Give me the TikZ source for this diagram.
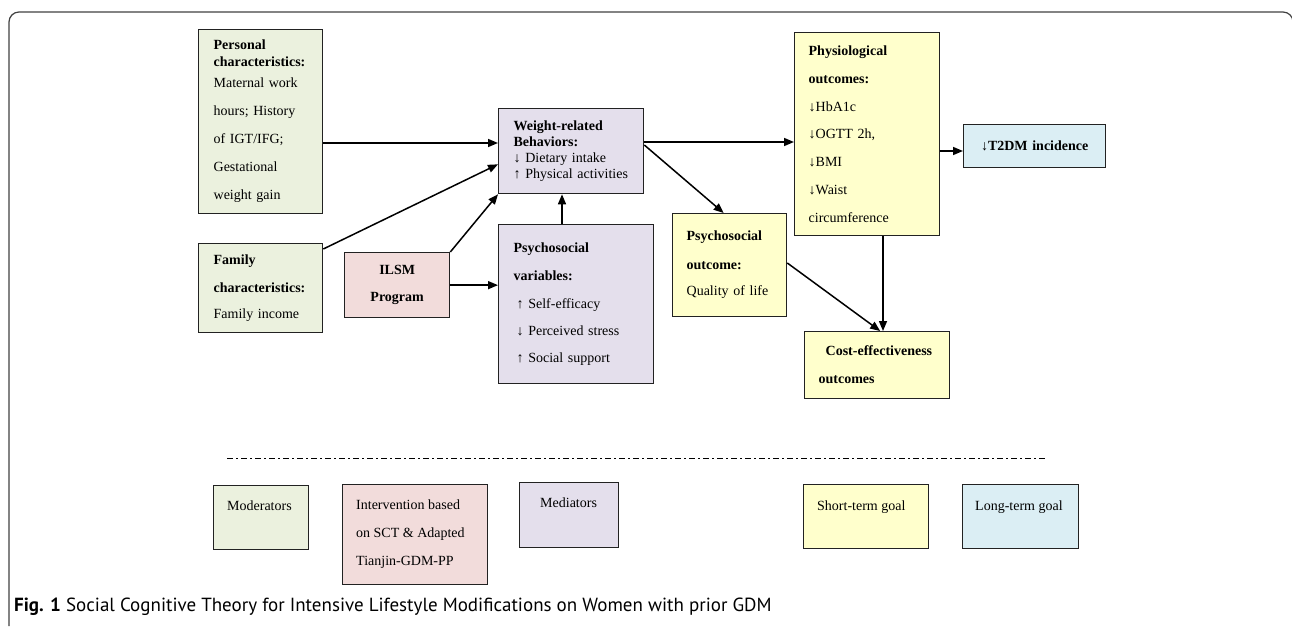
\documentclass[tikz,border=0pt]{standalone}
\usepackage{fontspec}
\setmainfont{Liberation Serif}
\newfontfamily\capfont{PT Sans}
\usetikzlibrary{arrows.meta}
\definecolor{cgreen}{HTML}{EBF1DE}
\definecolor{cpink}{HTML}{F2DCDB}
\definecolor{clav}{HTML}{E4DFEC}
\definecolor{cyel}{HTML}{FFFFCC}
\definecolor{cblue}{HTML}{DBEEF4}
\definecolor{cline}{HTML}{222222}
\tikzset{
  box/.style={draw=cline, line width=1.3pt, inner xsep=15pt, inner ysep=0pt,
    anchor=north west, align=left, font=\fontsize{14}{17}\selectfont},
  legbox/.style={draw=cline, line width=1.3pt, inner sep=0pt, anchor=north west},
  legtext/.style={anchor=base west, inner sep=0pt, font=\fontsize{14}{17}\selectfont},
  arr/.style={draw=black, line width=1.5pt, -{Triangle[length=10pt,width=8pt]}},
}
\begin{document}
\begin{tikzpicture}[x=1pt,y=-1pt]
\useasboundingbox (0,0) rectangle (1292,626);
% frame
\coordinate (f1) at (9,626);
\coordinate (f2) at (9,12);
\coordinate (f3) at (1293,12);
\coordinate (f4) at (1293,30);
\draw[line width=1.2pt, black!75, rounded corners=10pt] (f1) -- (f2) -- (f3) -- (f4);

% main boxes
\node[box, fill=cgreen, text width=94pt, minimum height=184pt] (pers) at (198,29)
  {\textbf{Personal}\\ \textbf{characteristics:}\\[4pt] Maternal work\\[11pt] hours; History\\[11pt] of IGT/IFG;\\[11pt] Gestational\\[11pt] weight gain};
\node[box, fill=cgreen, text width=94pt, minimum height=89pt] (fam) at (198,243)
  {\textbf{Family}\\[11pt] \textbf{characteristics:}\\[9pt] Family income};
\node[box, fill=cpink, text width=75pt, minimum height=65pt, align=center] (ilsm) at (344,252)
  {\textbf{ILSM}\\[10pt] \textbf{Program}};
\node[box, fill=clav, text width=115pt, minimum height=85pt] (wb) at (498,108)
  {\textbf{Weight-related}\\[-1pt] \textbf{Behaviors:}\\[-1pt] \mbox{↓ Dietary intake}\\[-1pt] \mbox{↑ Physical activities}};
\node[box, fill=clav, text width=125pt, minimum height=159pt] (pv) at (498,224)
  {\textbf{Psychosocial}\\[11pt] \textbf{variables:}\\[11pt] \mbox{\hspace{3pt}↑ Self-efficacy}\\[10pt] \mbox{\hspace{3pt}↓ Perceived stress}\\[10pt] \mbox{\hspace{3pt}↑ Social support}};
\node[box, fill=cyel, inner xsep=14pt, text width=86pt, minimum height=103pt] (po) at (672,213)
  {\textbf{Psychosocial}\\[12pt] \textbf{outcome:}\\[9pt] Quality of life};
\node[box, fill=cyel, inner xsep=14pt, text width=117pt, minimum height=203pt] (phys) at (794,32)
  {\textbf{Physiological}\\[10.7pt] \textbf{outcomes:}\\[10.7pt] ↓HbA1c\\[10.7pt] \mbox{↓OGTT 2h,}\\[10.7pt] ↓BMI\\[10.7pt] ↓Waist\\[10.7pt] circumference};
\node[box, fill=cblue, text width=112pt, minimum height=43pt, align=center] (t2dm) at (963,124)
  {\textbf{\mbox{↓T2DM incidence}}};
\node[box, fill=cyel, inner xsep=14pt, text width=117pt, minimum height=67pt] (cost) at (804,331)
  {\hspace{7pt}\textbf{Cost-effectiveness}\\[11pt] \textbf{outcomes}};

% helper coordinates
\coordinate (y143) at (0,143);
\coordinate (y142) at (0,142);
\coordinate (y151) at (0,151);
\coordinate (x562) at (562,0);
\coordinate (x883) at (883,0);

% connectors
\draw[arr] (pers.east |- y143) -- (wb.west |- y143);
\draw[arr] ([yshift=-6pt]fam.north east) -- ([yshift=30pt]wb.south west);
\draw[arr] (ilsm.north east) -- (wb.south west);
\draw[arr] (ilsm.east) -- (pv.west |- ilsm.east);
\draw[arr] (pv.north -| x562) -- (wb.south -| x562);
\draw[arr] (wb.east |- y142) -- (phys.west |- y142);
\draw[arr] ([yshift=-37pt]wb.north east) -- ([xshift=-6pt]po.north);
\draw[arr] (phys.east |- y151) -- (t2dm.west |- y151);
\draw[arr] (phys.south -| x883) -- (cost.north -| x883);
\draw[arr] ([yshift=-50pt]po.north east) -- ([xshift=3pt]cost.north);

% dashed separator
\coordinate (d1) at (227,458);
\coordinate (d2) at (1047,458);
\draw[line width=1pt, dash pattern=on 6pt off 3pt on 2pt off 3pt] (d1) -- (d2);

% legend
\node[legbox, fill=cgreen, minimum width=95pt, minimum height=64pt] (lmod) at (213,485) {};
\node[legtext] (tmod) at (227,510) {Moderators};
\node[legbox, fill=cpink, minimum width=145pt, minimum height=100pt] (lint) at (342,484) {};
\node[legtext] (tint1) at (356,509) {Intervention based};
\node[legtext] (tint2) at (356,537) {on SCT \& Adapted};
\node[legtext] (tint3) at (356,565) {Tianjin-GDM-PP};
\node[legbox, fill=clav, minimum width=99pt, minimum height=65pt] (lmed) at (519,482) {};
\node[legtext] (tmed) at (540,507) {Mediators};
\node[legbox, fill=cyel, minimum width=125pt, minimum height=64pt] (lshort) at (803,484) {};
\node[legtext] (tshort) at (817,510) {Short-term goal};
\node[legbox, fill=cblue, minimum width=116pt, minimum height=64pt] (llong) at (962,484) {};
\node[legtext] (tlong) at (975,510) {Long-term goal};

% caption
\node[anchor=base west, inner sep=0pt, font=\capfont\fontsize{19}{22}\selectfont] (cap) at (14,611)
  {\textbf{Fig. 1} Social Cognitive Theory for Intensive Lifestyle Modifications on Women with prior GDM};
\end{tikzpicture}
\end{document}
